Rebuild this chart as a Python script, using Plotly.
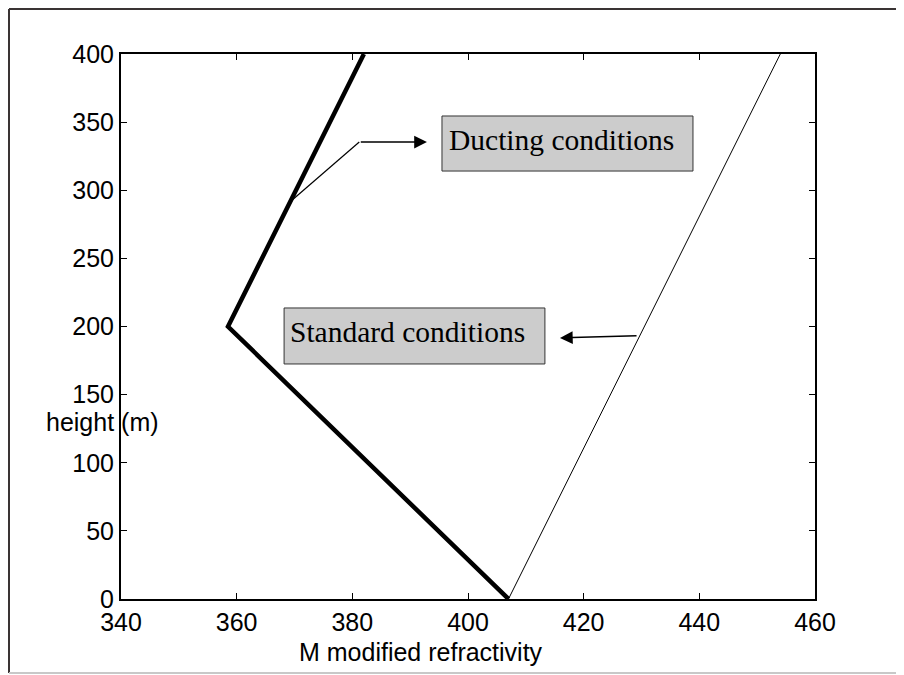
import plotly.graph_objects as go

# ---- data ----
ducting_m = [407, 358.5, 382]
ducting_h = [0, 200, 400]
standard_m = [407, 454]
standard_h = [0, 400]
x_ticks = [340, 360, 380, 400, 420, 440, 460]
y_ticks = [0, 50, 100, 150, 200, 250, 300, 350, 400]

# page body has an 8px margin, so the figure is sized to fit the window
W, H = 896, 667
L, T = 113, 46
PW, PH = 694, 545
R, B = W - L - PW, H - T - PH

fig = go.Figure()
fig.add_trace(go.Scatter(x=ducting_m, y=ducting_h, mode="lines",
                         line=dict(color="black", width=4.5), showlegend=False))
fig.add_trace(go.Scatter(x=standard_m, y=standard_h, mode="lines",
                         line=dict(color="black", width=1), showlegend=False))

axis_common = dict(showgrid=False, zeroline=False, showline=True, linecolor="black",
                   linewidth=2, mirror="ticks", ticks="inside", ticklen=6, tickwidth=1,
                   tickcolor="black",
                   tickfont=dict(family="Liberation Sans, Arial", size=25, color="black"))

fig.update_xaxes(range=[340, 460], tickvals=x_ticks, ticktext=[str(v) for v in x_ticks],
                 **axis_common)
fig.update_yaxes(range=[0, 400], tickvals=y_ticks, ticktext=[str(v) for v in y_ticks],
                 **axis_common)

serif = dict(family="Liberation Serif, Times New Roman", size=29.5, color="black")
sans = dict(family="Liberation Sans, Arial", size=25, color="black")

annotations = [
    dict(x=396.4, y=350.1, xref="x", yref="y", xanchor="left", yanchor="top",
         text="Ducting conditions", showarrow=False, font=serif, align="left"),
    dict(x=368.9, y=209.2, xref="x", yref="y", xanchor="left", yanchor="top",
         text="Standard conditions", showarrow=False, font=serif, align="left"),
    # arrows
    dict(x=392.9, y=335.4, ax=381.2, ay=335.4, xref="x", yref="y", axref="x", ayref="y",
         text="", showarrow=True, arrowhead=2, arrowsize=1.7, arrowwidth=1.5,
         arrowcolor="black"),
    dict(x=415.9, y=191.6, ax=429.4, ay=193.2, xref="x", yref="y", axref="x", ayref="y",
         text="", showarrow=True, arrowhead=2, arrowsize=1.7, arrowwidth=1.5,
         arrowcolor="black"),
    # axis titles
    dict(x=-0.026, y=0.325, xref="paper", yref="paper", text="height (m)",
         showarrow=False, font=sans, xanchor="center", yanchor="middle"),
    dict(x=0.432, y=-0.097, xref="paper", yref="paper", text="M modified refractivity",
         showarrow=False, font=sans, xanchor="center", yanchor="middle"),
]

shapes = [
    # label boxes
    dict(type="rect", xref="x", yref="y", x0=395.5, x1=438.9, y0=314.1, y1=354.5,
         fillcolor="#cccccc", line=dict(color="#333333", width=1), layer="below"),
    dict(type="rect", xref="x", yref="y", x0=368.2, x1=413.3, y0=172.5, y1=213.6,
         fillcolor="#cccccc", line=dict(color="#333333", width=1), layer="below"),
    # bent leader line for the ducting arrow
    dict(type="line", xref="x", yref="y", x0=381.2, y0=335.4, x1=369.6, y1=292.8,
         line=dict(color="black", width=1.2)),
]

# figure frame (figure pixel coords -> paper coords)
def px(xpix):
    return (xpix - L) / PW

def py(ypix):
    return (T + PH - ypix) / PH

fl, fr, ft, fb = px(1), px(892), py(1), py(665)
shapes += [
    dict(type="line", xref="paper", yref="paper", x0=fl, x1=fl, y0=fb, y1=ft,
         line=dict(color="#3a3434", width=2)),
    dict(type="line", xref="paper", yref="paper", x0=fl, x1=fr, y0=ft, y1=ft,
         line=dict(color="#3a3434", width=2)),
    dict(type="line", xref="paper", yref="paper", x0=fr, x1=fr, y0=fb, y1=ft,
         line=dict(color="#3a3434", width=2)),
    dict(type="line", xref="paper", yref="paper", x0=fl, x1=fr, y0=fb, y1=fb,
         line=dict(color="#c8c8c8", width=2)),
]

fig.update_layout(width=W, height=H, autosize=False,
                  margin=dict(l=L, r=R, t=T, b=B),
                  paper_bgcolor="white", plot_bgcolor="white",
                  annotations=annotations, shapes=shapes, showlegend=False)

fig.write_html("out.html")
